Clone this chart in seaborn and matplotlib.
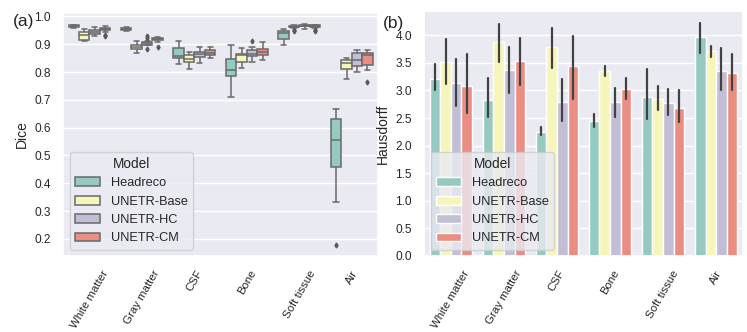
import numpy as np
import pandas as pd
import matplotlib
matplotlib.use("Agg")
import matplotlib.pyplot as plt
import seaborn as sns

tissues = ["White matter", "Gray matter", "CSF", "Bone", "Soft tissue", "Air"]
models = ["Headreco", "UNETR-Base", "UNETR-HC", "UNETR-CM"]

# Dice box statistics, rows = models, columns = tissues
dice_lo = [[0.960, 0.948, 0.828, 0.709, 0.896, 0.332],
           [0.912, 0.867, 0.810, 0.814, 0.957, 0.774],
           [0.931, 0.896, 0.834, 0.836, 0.954, 0.800],
           [0.944, 0.908, 0.849, 0.843, 0.958, 0.809]]
dice_q1 = [[0.962, 0.951, 0.852, 0.786, 0.919, 0.458],
           [0.914, 0.884, 0.837, 0.837, 0.961, 0.812],
           [0.937, 0.899, 0.855, 0.858, 0.964, 0.823],
           [0.950, 0.914, 0.860, 0.860, 0.962, 0.827]]
dice_med = [[0.965, 0.955, 0.858, 0.808, 0.941, 0.554],
            [0.935, 0.890, 0.848, 0.860, 0.963, 0.832],
            [0.944, 0.903, 0.864, 0.864, 0.967, 0.844],
            [0.954, 0.918, 0.867, 0.873, 0.966, 0.861]]
dice_q3 = [[0.968, 0.958, 0.885, 0.846, 0.949, 0.632],
           [0.943, 0.899, 0.861, 0.866, 0.967, 0.844],
           [0.950, 0.907, 0.872, 0.878, 0.971, 0.867],
           [0.960, 0.923, 0.878, 0.884, 0.969, 0.867]]
dice_hi = [[0.970, 0.961, 0.913, 0.899, 0.955, 0.668],
           [0.956, 0.911, 0.873, 0.887, 0.969, 0.850],
           [0.961, 0.912, 0.890, 0.891, 0.974, 0.881],
           [0.964, 0.926, 0.891, 0.908, 0.971, 0.879]]
# outliers: (model, tissue) -> values
dice_fliers = {
    (0, 5): [0.178],
    (2, 1): [0.884, 0.922, 0.929],
    (3, 0): [0.929, 0.933],
    (3, 1): [0.891],
    (2, 3): [0.913],
    (1, 4): [0.946, 0.950],
    (3, 4): [0.946, 0.950],
    (3, 5): [0.764],
}

# Hausdorff bar heights and error bar ends
hd_mean = [[3.21, 2.83, 2.25, 2.44, 2.88, 3.97],
           [3.51, 3.88, 3.78, 3.35, 2.84, 3.71],
           [3.14, 3.37, 2.80, 2.79, 2.77, 3.35],
           [3.09, 3.53, 3.44, 3.03, 2.68, 3.31]]
hd_err_lo = [[3.01, 2.52, 2.19, 2.33, 2.49, 3.68],
             [3.12, 3.51, 3.41, 3.27, 2.64, 3.60],
             [2.72, 2.95, 2.45, 2.52, 2.55, 3.01],
             [2.59, 3.10, 2.85, 2.84, 2.43, 3.00]]
hd_err_hi = [[3.48, 3.23, 2.34, 2.57, 3.39, 4.23],
             [3.94, 4.20, 4.14, 3.44, 3.08, 3.81],
             [3.57, 3.78, 3.20, 3.04, 3.02, 3.77],
             [3.67, 3.95, 3.99, 3.22, 3.00, 3.67]]


def box_sample(lo, q1, med, q3, hi, fliers):
    """Builds a sample whose box-plot statistics equal the given ones."""
    low = sorted(f for f in fliers if f < lo)
    high = sorted(f for f in fliers if f > hi)
    k = max(len(low), len(high)) + 1
    bottom = low + [lo] * (k - len(low))
    top = [hi] * (k - len(high)) + high
    return bottom + [q1] * k + [med] + [q3] * k + top


rows = []
for m, model in enumerate(models):
    for t, tissue in enumerate(tissues):
        vals = box_sample(dice_lo[m][t], dice_q1[m][t], dice_med[m][t],
                          dice_q3[m][t], dice_hi[m][t], dice_fliers.get((m, t), []))
        for v in vals:
            rows.append({"Model": model, "Tissue": tissue, "Dice": v})
dice_df = pd.DataFrame(rows)

rows = []
for m, model in enumerate(models):
    for t, tissue in enumerate(tissues):
        for v in (hd_err_lo[m][t], hd_mean[m][t], hd_err_hi[m][t]):
            rows.append({"Model": model, "Tissue": tissue, "Hausdorff": v})
hd_df = pd.DataFrame(rows)

sns.set_theme(style="darkgrid", context="notebook", font_scale=0.8)
plt.rcParams["font.family"] = ["Liberation Sans", "DejaVu Sans"]
plt.rcParams["xtick.major.pad"] = 3.0
plt.rcParams["ytick.major.pad"] = 3.0
plt.rcParams["legend.fontsize"] = 9.2
plt.rcParams["legend.title_fontsize"] = 9.8
plt.rcParams["axes.labelsize"] = 10

fig = plt.figure(figsize=(7.47, 3.32), dpi=100)
ax1 = fig.add_axes([0.0847, 0.229, 0.4213, 0.733])
ax2 = fig.add_axes([0.568, 0.229, 0.4262, 0.738])

# (a) Dice boxplot
sns.boxplot(data=dice_df, x="Tissue", y="Dice", hue="Model", palette="Set3",
            linewidth=1.1, ax=ax1,
            flierprops=dict(marker="d", markersize=2.5, markerfacecolor="0.35",
                            markeredgecolor="0.35"))
ax1.set_xlabel("")
sns.move_legend(ax1, "lower left", title="Model")

# (b) Hausdorff barplot
sns.barplot(data=hd_df, x="Tissue", y="Hausdorff", hue="Model", palette="Set3",
            estimator="median", errorbar=lambda v: (v.min(), v.max()),
            err_kws={"linewidth": 1.6, "color": "0.26"}, ax=ax2)
ax2.set_xlabel("")
sns.move_legend(ax2, "lower left", title="Model")

for ax in (ax1, ax2):
    ax.tick_params(axis="x", rotation=60, labelsize=8.2)
    ax.tick_params(axis="y", labelsize=8.6)

fig.text(0.017, 0.935, "(a)", fontsize=12.5, va="center")
fig.text(0.513, 0.928, "(b)", fontsize=12.5, va="center")

fig.savefig("out.png", dpi=100)
